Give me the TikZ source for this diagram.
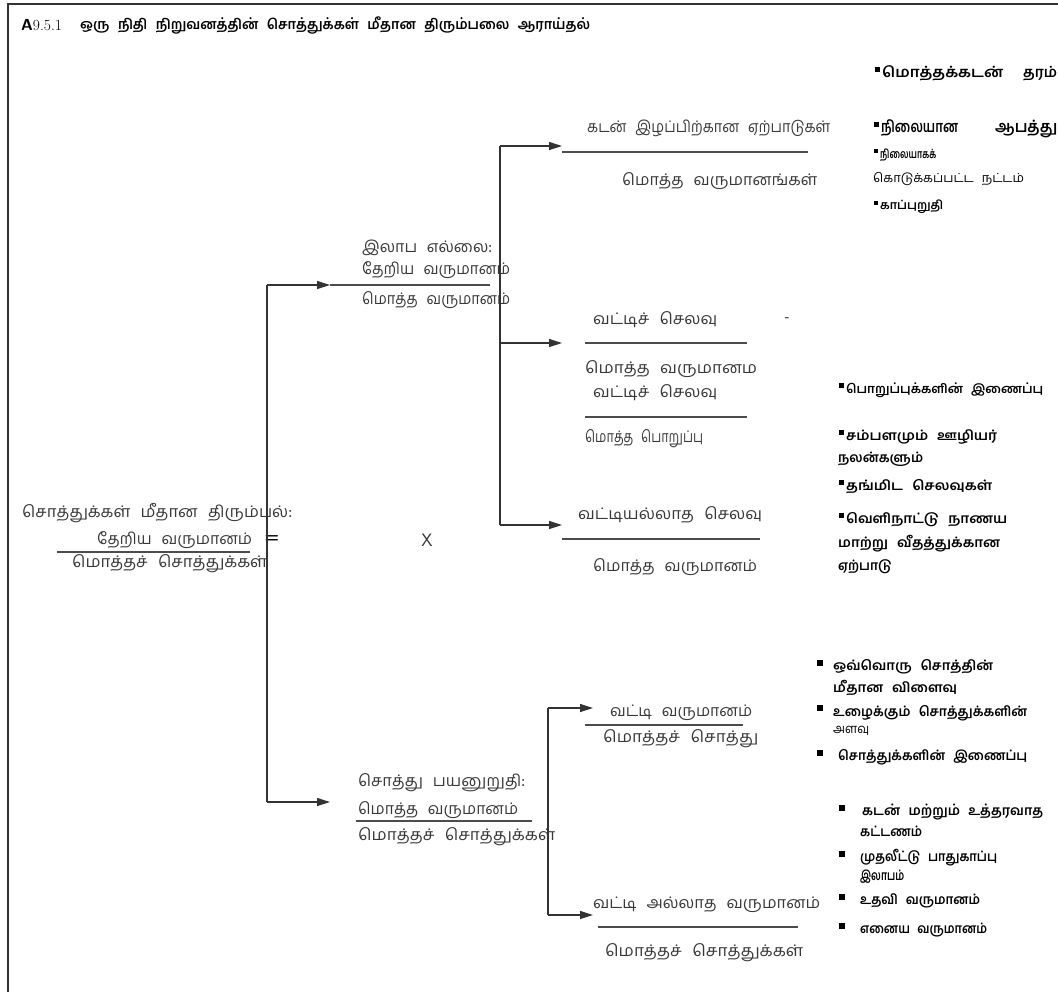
\documentclass[tikz,border=0pt]{standalone}
\usepackage{fontspec}
\usepackage{graphicx}
\usetikzlibrary{arrows.meta}
\newfontfamily\tamil[Script=Tamil,WordSpace=2]{Hind Madurai}
\newfontfamily\tamilt[Script=Tamil,WordSpace=2.5]{Hind Madurai}
\newcommand{\fw}[2]{\resizebox{#1pt}{\height}{#2}}
\tikzset{
  txt/.style={font=\tamil\fontsize{16}{18}\selectfont, text=black!78, inner sep=0pt, anchor=west},
  btxt/.style={font=\tamil\bfseries\fontsize{13.5}{16}\selectfont, text=black, inner sep=0pt, anchor=west},
  bsq/.style={fill=black, inner sep=0pt, minimum size=5pt, draw=none},
  conn/.style={line width=1.2pt, draw=black!80},
  arr/.style={conn, -{Triangle[length=13pt,width=8pt]}},
  fracline/.style={line width=1.1pt, draw=black!70},
}
\begin{document}
\begin{tikzpicture}[x=1pt,y=-1pt]
\useasboundingbox (0,0) rectangle (1058,1005);
% frame
\coordinate (fTL) at (8,4);
\coordinate (fTR) at (1058,4);
\coordinate (fBL) at (8,992);
\draw[conn] (fBL) -- (fTL) -- (fTR);
% title
\node[btxt] (titleA) at (21,25) {{\sffamily\bfseries\fontsize{16}{16}\selectfont A}{\rmfamily\mdseries\fontsize{15.5}{15.5}\selectfont 9.5.1}};
\node[btxt, font=\tamilt\bfseries\fontsize{14}{16}\selectfont] (title) at (80,25) {\fw{510}{ஒரு நிதி நிறுவனத்தின் சொத்துக்கள் மீதான திரும்பலை ஆராய்தல்}};
% top right bullets
\node[bsq] (t1s) at (877,69) {};
\node[btxt, font=\tamil\bfseries\fontsize{14.5}{16}\selectfont] (t1) at (882,73) {\fw{121}{மொத்தக்கடன்}\hspace{20pt}\fw{34}{தரம்}};
\node[bsq] (t2s) at (876,124) {};
\node[btxt, font=\tamil\bfseries\fontsize{16}{18}\selectfont] (t2) at (881,129) {\fw{77}{நிலையான}\hspace{37pt}\fw{62}{ஆபத்து}};
\node[bsq, minimum size=4.5pt] (t3s) at (876,151) {};
\node[btxt, font=\tamil\bfseries\fontsize{12}{14}\selectfont] (t3) at (880,155) {\fw{56}{நிலையாகக்}};
\node[btxt, font=\tamil\fontsize{12.5}{14}\selectfont] (t4) at (873,179) {\fw{151}{கொடுக்கப்பட்ட நட்டம்}};
\node[bsq, minimum size=4.5pt] (t5s) at (876,203) {};
\node[btxt, font=\tamil\bfseries\fontsize{12}{14}\selectfont] (t5) at (880,207) {\fw{63}{காப்புறுதி}};
% top fraction
\node[txt] (f1n) at (587,128) {\fw{243}{கடன் இழப்பிற்கான ஏற்பாடுகள்}};
\coordinate (f1a) at (562,152); \coordinate (f1b) at (808,152);
\draw[fracline] (f1a) -- (f1b);
\node[txt] (f1d) at (622,181) {\fw{195}{மொத்த வருமானங்கள்}};
% profit margin
\node[txt] (pm1) at (362,248) {\fw{130}{இலாப எல்லை:}};
\node[txt] (pm2) at (362,270) {\fw{148}{தேறிய வருமானம்}};
\coordinate (pma) at (330,285); \coordinate (pmb) at (490,285);
\draw[fracline] (pma) -- (pmb);
\node[txt] (pm3) at (362,300) {\fw{148}{மொத்த வருமானம்}};
% fraction 2
\node[txt] (f2n) at (593,320) {\fw{124}{வட்டிச் செலவு}};
\node[txt] (dash) at (784,320) {-};
\coordinate (f2a) at (585,343); \coordinate (f2b) at (747,343);
\draw[fracline] (f2a) -- (f2b);
\node[txt] (f2d) at (585,369) {\fw{172}{மொத்த வருமானம}};
\node[txt] (f2n2) at (593,393) {\fw{124}{வட்டிச் செலவு}};
\coordinate (f2c) at (585,417); \coordinate (f2e) at (747,417);
\draw[fracline] (f2c) -- (f2e);
\node[txt] (f2d2) at (585,439) {\fw{118}{மொத்த பொறுப்பு}};
% mid bullets
\node[bsq] (m1s) at (841,385) {};
\node[btxt, font=\tamil\bfseries\fontsize{12.5}{14}\selectfont] (m1) at (846,390) {\fw{197}{பொறுப்புக்களின் இணைப்பு}};
\node[bsq] (m2s) at (841,432) {};
\node[btxt] (m2) at (846,437) {\fw{151}{சம்பளமும் ஊழியர்}};
\node[btxt] (m3) at (838,459) {\fw{85}{நலன்களும்}};
\node[bsq] (m4s) at (841,482) {};
\node[btxt] (m4) at (846,487) {\fw{146}{தங்மிட செலவுகள்}};
\node[bsq] (m5s) at (841,515) {};
\node[btxt] (m5) at (846,520) {\fw{161}{வெளிநாட்டு நாணய}};
\node[btxt] (m6) at (838,544) {\fw{162}{மாற்று வீதத்துக்கான}};
\node[btxt] (m7) at (838,567) {\fw{54}{ஏற்பாடு}};
% fraction 3
\node[txt] (f3n) at (578,515) {\fw{184}{வட்டியல்லாத செலவு}};
\coordinate (f3a) at (562,539); \coordinate (f3b) at (760,539);
\draw[fracline] (f3a) -- (f3b);
\node[txt] (f3d) at (593,567) {\fw{164}{மொத்த வருமானம்}};
% left
\node[txt] (r1) at (22,513) {\fw{270}{சொத்துக்கள் மீதான திரும்பல்:}};
\node[txt] (r2) at (97,540) {\fw{155}{தேறிய வருமானம்}};
\node[inner sep=0pt, font=\sffamily\bfseries\fontsize{17}{17}\selectfont] (eq) at (272,539) {=};
\coordinate (ra) at (57,552); \coordinate (rb) at (250,552);
\draw[fracline] (ra) -- (rb);
\node[txt] (r3) at (72,564) {\fw{195}{மொத்தச் சொத்துக்கள்}};
\node[inner sep=0pt, text=black!80, font=\sffamily\fontsize{18}{18}\selectfont] (x) at (427,540) {X};
% asset utilisation
\node[txt] (au1) at (358,783) {\fw{167}{சொத்து பயனுறுதி:}};
\node[txt] (au2) at (358,810) {\fw{160}{மொத்த வருமானம்}};
\coordinate (aua) at (356,821); \coordinate (aub) at (532,821);
\draw[fracline] (aua) -- (aub);
\node[txt] (au3) at (358,837) {\fw{197}{மொத்தச் சொத்துக்கள்}};
% fraction 4
\node[txt] (f4n) at (610,713) {\fw{142}{வட்டி வருமானம்}};
\coordinate (f4a) at (585,725); \coordinate (f4b) at (743,725);
\draw[fracline] (f4a) -- (f4b);
\node[txt] (f4d) at (603,739) {\fw{155}{மொத்தச் சொத்து}};
% fraction 5
\node[txt] (f5n) at (593,905) {\fw{227}{வட்டி அல்லாத வருமானம்}};
\coordinate (f5a) at (598,927); \coordinate (f5b) at (798,927);
\draw[fracline] (f5a) -- (f5b);
\node[txt] (f5d) at (605,953) {\fw{198}{மொத்தச் சொத்துக்கள்}};
% bottom bullets
\node[bsq, minimum size=6pt] (b1s) at (820,663) {};
\node[btxt] (b1) at (833,667) {\fw{160}{ஒவ்வொரு சொத்தின்}};
\node[btxt] (b1b) at (833,688) {\fw{124}{மீதான விளைவு}};
\node[bsq, minimum size=6pt] (b2s) at (820,708) {};
\node[btxt] (b2) at (833,713) {\fw{194}{உழைக்கும் சொத்துக்களின்}};
\node[btxt, font=\tamil\fontsize{13}{16}\selectfont] (b2b) at (833,731) {\fw{36}{அளவு}};
\node[bsq, minimum size=6pt] (b3s) at (820,753) {};
\node[btxt] (b3) at (838,757) {\fw{189}{சொத்துக்களின் இணைப்பு}};
\node[bsq, minimum size=6pt] (b4s) at (842,808) {};
\node[btxt] (b4) at (862,812) {\fw{181}{கடன் மற்றும் உத்தரவாத}};
\node[btxt] (b4b) at (860,831) {\fw{62}{கட்டணம்}};
\node[bsq, minimum size=6pt] (b5s) at (842,854) {};
\node[btxt] (b5) at (860,858) {\fw{137}{முதலீட்டு பாதுகாப்பு}};
\node[btxt] (b5b) at (860,877) {\fw{44}{இலாபம்}};
\node[bsq, minimum size=6pt] (b6s) at (842,897) {};
\node[btxt] (b6) at (860,901) {\fw{120}{உதவி வருமானம்}};
\node[bsq, minimum size=6pt] (b7s) at (842,926) {};
\node[btxt] (b7) at (860,930) {\fw{127}{எனைய வருமானம்}};
% connectors
\coordinate (v1t) at (267,285); \coordinate (v1b) at (267,802);
\coordinate (v1tt) at (330,285); \coordinate (v1bt) at (330,802);
\draw[conn] (v1t) -- (v1b);
\draw[arr] (v1t) -- (v1tt);
\draw[arr] (v1b) -- (v1bt);
\coordinate (v2t) at (500,146); \coordinate (v2m) at (500,343); \coordinate (v2b) at (500,525);
\coordinate (v2tt) at (562,146); \coordinate (v2mt) at (562,343); \coordinate (v2bt) at (562,525);
\draw[conn] (v2t) -- (v2b);
\draw[arr] (v2t) -- (v2tt);
\draw[arr] (v2m) -- (v2mt);
\draw[arr] (v2b) -- (v2bt);
\coordinate (v3t) at (548,708); \coordinate (v3b) at (548,915);
\coordinate (v3tt) at (593,708); \coordinate (v3bt) at (593,915);
\draw[conn] (v3t) -- (v3b);
\draw[arr] (v3t) -- (v3tt);
\draw[arr] (v3b) -- (v3bt);
\end{tikzpicture}
\end{document}
